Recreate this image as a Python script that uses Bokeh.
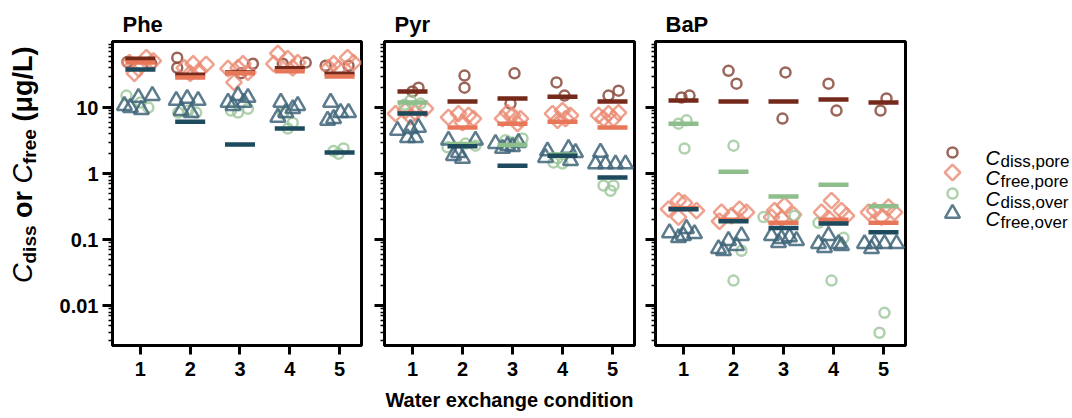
import math
from bokeh.plotting import figure
from bokeh.models import Range1d, FixedTicker, CustomJSTickFormatter, Div
from bokeh.layouts import row
from bokeh.embed import file_html
from bokeh.resources import INLINE
from bokeh.core.properties import value

NAN = float("nan")

CONDITIONS = [1, 2, 3, 4, 5]
PANELS = ["Phe", "Pyr", "BaP"]
Y_TICKS = [0.01, 0.1, 1, 10]
X_LABEL = "Water exchange condition"
SERIES_SUBS = ["diss,pore", "free,pore", "diss,over", "free,over"]

# ---------------- Phe ----------------
PHE_DISS_PORE_X = [0.74, 1.22, 1.74, 1.74, 3.02, 3.26, 3.86, 4.32, 4.72, 5.18]
PHE_DISS_PORE_Y = [49, 46, 57, 40, 33, 46, 46, 48, 43, 43]
PHE_FREE_PORE_X = [0.78, 0.96, 1.12, 1.26, 0.88, 1.88, 2.06, 2.18, 2.32, 2.0,
                   2.76, 2.96, 3.16, 2.88, 3.06, 3.76, 3.96, 4.16, 3.68, 4.06,
                   4.88, 5.16, 4.98, 4.78, 5.28]
PHE_FREE_PORE_Y = [48, 39, 57, 51, 33, 40, 46, 36, 45, 33,
                   39, 40, 34, 24, 46, 66, 55, 48, 46, 40,
                   46, 57, 39, 40, 48]
PHE_DISS_OVER_X = [0.72, 1.16, 1.0, 1.76, 2.12, 1.96, 2.96, 3.16, 2.82,
                   3.96, 4.06, 3.86, 4.88, 5.08, 4.98]
PHE_DISS_OVER_Y = [15.2, 10, 11.9, 8.4, 8.4, 9, 8.4, 9.6, 9,
                   4.8, 5.9, 8.1, 2.2, 2.4, 2.0]
PHE_FREE_OVER_X = [0.68, 0.96, 1.24, 0.8, 1.02, 1.72, 1.94, 2.16, 1.82, 2.02,
                   2.76, 2.96, 3.16, 2.86, 3.08, 3.82, 4.16, 3.92, 3.76, 4.06,
                   4.82, 5.02, 5.18, 4.88, 4.76]
PHE_FREE_OVER_Y = [10.7, 14.2, 15.2, 10, 9.3, 12.8, 13.7, 12.8, 9, 8.4,
                   12, 15.2, 14.2, 10.7, 12, 12, 10.7, 8.4, 7.1, 9.6,
                   12, 8.4, 8.4, 6.8, 6.4]
PHE_MEAN_DISS_PORE = [55, 31.5, 34, 39.4, 32.5]
PHE_MEAN_FREE_PORE = [48, 28.5, 33, 35.5, 29.5]
PHE_MEAN_DISS_OVER = [NAN, NAN, NAN, NAN, NAN]
PHE_MEAN_FREE_OVER = [37.7, 6.1, 2.75, 4.8, 2.08]

# ---------------- Pyr ----------------
PYR_DISS_PORE_X = [1.0, 1.12, 2.04, 2.04, 3.04, 2.96, 3.88, 4.04, 5.12, 4.92]
PYR_DISS_PORE_Y = [17.5, 20, 30.5, 20, 33, 11.5, 24, 15.2, 18, 15.2]
PYR_FREE_PORE_X = [0.66, 0.86, 1.06, 1.26, 0.96, 1.72, 1.92, 2.12, 2.22, 2.0,
                   2.8, 3.0, 3.16, 2.9, 3.1, 3.8, 4.0, 4.16, 3.9, 4.06,
                   4.72, 4.92, 5.12, 4.82, 5.02]
PYR_FREE_PORE_Y = [8.1, 9, 8.4, 9.6, 7.3, 7.1, 8.1, 7.6, 6.8, 5.9,
                   6.8, 7.6, 6.8, 8.4, 5.7, 8.1, 9, 7.6, 6.4, 6.8,
                   7.6, 8.1, 8.4, 6.8, 6.8]
PYR_DISS_OVER_X = [0.96, 1.16, 0.84, 1.7, 2.06, 2.26, 3.2, 3.0, 2.86,
                   3.82, 4.0, 3.9, 4.82, 5.02, 4.96]
PYR_DISS_OVER_Y = [12.8, 11.5, 11, 2.5, 2.85, 2.65, 3.4, 2.95, 3.2,
                   1.47, 1.42, 1.7, 0.66, 0.66, 0.55]
PYR_FREE_OVER_X = [0.7, 0.96, 1.12, 0.9, 1.06, 1.72, 2.26, 1.92, 2.0, 1.82,
                   2.66, 2.9, 3.12, 2.8, 3.0, 3.7, 4.12, 4.26, 3.66, 4.16,
                   4.76, 4.66, 4.86, 5.06, 5.26]
PYR_FREE_OVER_Y = [4.5, 4.8, 5.0, 3.5, 3.5, 3.2, 3.2, 2.08, 1.7, 1.87,
                   2.85, 2.65, 2.95, 2.4, 2.55, 2.2, 2.4, 2.08, 1.75, 1.57,
                   2.1, 1.4, 1.4, 1.4, 1.4]
PYR_MEAN_DISS_PORE = [17.5, 12.3, 13.7, 14.6, 12.3]
PYR_MEAN_FREE_PORE = [8.3, 5.0, 5.7, 6.1, 5.0]
PYR_MEAN_DISS_OVER = [11.9, 2.8, 2.7, 1.95, NAN]
PYR_MEAN_FREE_OVER = [8.1, 2.6, 1.32, 1.87, 0.87]

# ---------------- BaP ----------------
BAP_DISS_PORE_X = [0.96, 1.12, 1.9, 2.06, 3.04, 2.98, 3.9, 4.06, 5.06, 4.94]
BAP_DISS_PORE_Y = [14.2, 15.2, 36, 23, 34, 6.8, 23, 9, 13.7, 9]
BAP_FREE_PORE_X = [0.7, 0.9, 1.02, 1.26, 0.9, 1.76, 1.96, 2.12, 2.26, 1.72,
                   2.82, 3.02, 3.2, 2.96, 2.76, 3.96, 3.76, 4.16, 4.26, 3.9,
                   4.82, 5.1, 4.96, 4.7, 5.22]
BAP_FREE_PORE_Y = [0.29, 0.39, 0.36, 0.275, 0.22, 0.26, 0.23, 0.29, 0.26, 0.19,
                   0.275, 0.33, 0.24, 0.21, 0.22, 0.39, 0.26, 0.275, 0.23, 0.21,
                   0.275, 0.31, 0.22, 0.26, 0.26]
BAP_DISS_OVER_X = [0.9, 1.06, 1.02, 2.0, 2.16, 2.0, 2.6, 3.22,
                   3.7, 4.2, 3.96, 5.02, 4.92]
BAP_DISS_OVER_Y = [5.7, 6.4, 2.4, 2.65, 0.068, 0.024, 0.22, 0.23,
                   0.18, 0.107, 0.024, 0.0078, 0.0039]
BAP_FREE_OVER_X = [0.72, 1.06, 0.9, 1.22, 1.0, 1.7, 1.9, 2.16, 1.8, 2.06,
                   2.76, 2.96, 3.12, 2.9, 3.26, 3.7, 3.9, 4.1, 3.82, 4.16,
                   4.62, 4.82, 5.02, 5.26, 4.76]
BAP_FREE_OVER_Y = [0.127, 0.147, 0.107, 0.123, 0.115, 0.073, 0.097, 0.115, 0.068, 0.081,
                   0.115, 0.104, 0.11, 0.09, 0.097, 0.087, 0.115, 0.087, 0.076, 0.081,
                   0.087, 0.087, 0.087, 0.087, 0.073]
BAP_MEAN_DISS_PORE = [12.8, 12.3, 12.3, 13.2, 11.9]
BAP_MEAN_FREE_PORE = [0.3, 0.2, 0.18, 0.2, 0.18]
BAP_MEAN_DISS_OVER = [5.7, 1.07, 0.45, 0.68, 0.32]
BAP_MEAN_FREE_OVER = [0.29, 0.19, 0.15, 0.175, 0.13]

# ---------------- styling ----------------
FONT = "Liberation Sans"
H = 418
TOP = 41
BOTTOM = 73
PT_COLORS = ["#8A4B3D", "#EA8B73", "#9CC59A", "#3F6579"]
PT_ALPHA = [0.85, 0.8, 0.8, 0.85]
BAR_COLORS = ["#74291A", "#E8775A", "#8DBE8B", "#1D4A5C"]

PANEL_POINTS = {
    "Phe": [(PHE_DISS_PORE_X, PHE_DISS_PORE_Y), (PHE_FREE_PORE_X, PHE_FREE_PORE_Y),
            (PHE_DISS_OVER_X, PHE_DISS_OVER_Y), (PHE_FREE_OVER_X, PHE_FREE_OVER_Y)],
    "Pyr": [(PYR_DISS_PORE_X, PYR_DISS_PORE_Y), (PYR_FREE_PORE_X, PYR_FREE_PORE_Y),
            (PYR_DISS_OVER_X, PYR_DISS_OVER_Y), (PYR_FREE_OVER_X, PYR_FREE_OVER_Y)],
    "BaP": [(BAP_DISS_PORE_X, BAP_DISS_PORE_Y), (BAP_FREE_PORE_X, BAP_FREE_PORE_Y),
            (BAP_DISS_OVER_X, BAP_DISS_OVER_Y), (BAP_FREE_OVER_X, BAP_FREE_OVER_Y)],
}
PANEL_MEANS = {
    "Phe": [PHE_MEAN_DISS_PORE, PHE_MEAN_FREE_PORE, PHE_MEAN_DISS_OVER, PHE_MEAN_FREE_OVER],
    "Pyr": [PYR_MEAN_DISS_PORE, PYR_MEAN_FREE_PORE, PYR_MEAN_DISS_OVER, PYR_MEAN_FREE_OVER],
    "BaP": [BAP_MEAN_DISS_PORE, BAP_MEAN_FREE_PORE, BAP_MEAN_DISS_OVER, BAP_MEAN_FREE_OVER],
}

MINOR = [m * 10.0 ** e for e in range(-3, 2) for m in range(2, 10)]


def draw_marker(p, kind, x, y, color, alpha):
    if kind == 0 or kind == 2:
        p.scatter(x, y, marker="circle", size=10, fill_color=None,
                  line_color=color, line_alpha=alpha, line_width=2.5)
    elif kind == 1:
        p.scatter(x, y, marker="square", angle=math.pi / 4, size=11,
                  fill_color=None, line_color=color, line_alpha=alpha, line_width=2.5)
    else:
        p.scatter(x, y, marker="triangle", size=15, fill_color=None,
                  line_color=color, line_alpha=alpha, line_width=2.5)


def make_panel(name, bl, br, first, xlabel):
    p = figure(width=bl + 250 + br, height=H, title=name,
               x_range=Range1d(0.44, 5.44), y_range=Range1d(0.0025, 100),
               y_axis_type="log", output_backend="svg", toolbar_location=None,
               min_border_left=bl, min_border_right=br, min_border_top=TOP,
               min_border_bottom=BOTTOM)
    p.xgrid.visible = False
    p.ygrid.visible = False
    p.outline_line_color = "black"
    p.outline_line_width = 3
    p.outline_line_alpha = 1.0

    t = p.title
    t.text_font = FONT
    t.text_font_size = "22px"
    t.text_font_style = "bold"
    t.text_color = "black"
    t.align = "left"
    t.offset = 10
    t.standoff = 10

    xa = p.xaxis[0]
    xa.ticker = FixedTicker(ticks=CONDITIONS)
    xa.axis_line_width = 3
    xa.major_tick_out = 9
    xa.major_tick_in = 0
    xa.major_tick_line_width = 3
    xa.minor_tick_out = 0
    xa.minor_tick_in = 0
    xa.major_label_text_font = FONT
    xa.major_label_text_font_size = "20px"
    xa.major_label_text_font_style = "bold"
    xa.major_label_text_color = "black"
    xa.major_label_standoff = 7
    if xlabel:
        xa.axis_label = X_LABEL
        xa.axis_label_text_font = FONT
        xa.axis_label_text_font_size = "20px"
        xa.axis_label_text_font_style = "bold"
        xa.axis_label_text_color = "black"
        xa.axis_label_standoff = 10

    ya = p.yaxis[0]
    ya.ticker = FixedTicker(ticks=Y_TICKS, minor_ticks=MINOR)
    ya.axis_line_width = 3
    ya.major_tick_out = 10
    ya.major_tick_in = 0
    ya.major_tick_line_width = 3
    ya.minor_tick_out = 4
    ya.minor_tick_in = 0
    ya.minor_tick_line_width = 1.5
    if first:
        ya.formatter = CustomJSTickFormatter(code="return String(Number(tick.toPrecision(6)));")
        ya.major_label_text_font = FONT
        ya.major_label_text_font_size = "20px"
        ya.major_label_text_font_style = "bold"
        ya.major_label_text_color = "black"
        ya.major_label_standoff = 4
    else:
        ya.formatter = CustomJSTickFormatter(code="return '';")
        ya.major_label_standoff = 0

    for k, (xs, ys) in enumerate(PANEL_POINTS[name]):
        draw_marker(p, k, xs, ys, PT_COLORS[k], PT_ALPHA[k])
    for k, means in enumerate(PANEL_MEANS[name]):
        p.scatter(CONDITIONS, means, marker="dash", size=30, line_width=4.5,
                  line_color=BAR_COLORS[k])
    return p


# rotated y-axis title with subscripts, as real HTML text
YLAB_HTML = (
    '<div style="position:absolute; left:10px; top:283px; transform:rotate(-90deg); '
    "transform-origin:0 0; white-space:nowrap; font-family:'Liberation Sans', Arial, sans-serif; "
    'font-size:27px; font-weight:bold; line-height:27px; color:#000;">'
    '<span style="font-style:italic; font-weight:normal;">C</span>'
    '<span style="font-size:19px; position:relative; top:4px;">diss</span>'
    ' or '
    '<span style="font-style:italic; font-weight:normal;">C</span>'
    '<span style="font-size:19px; position:relative; top:4px;">free</span>'
    ' (μg/L)</div>'
)
ylab = Div(text=YLAB_HTML, width=56, height=H, margin=(0, 0, 0, 0))

p1 = make_panel("Phe", 55, 11, True, False)
p2 = make_panel("Pyr", 12, 10, False, True)
p3 = make_panel("BaP", 11, 10, False, False)

# legend panel (frame aligned with the panels: page y 41..345)
leg = figure(width=157, height=H, x_range=Range1d(0, 157), y_range=Range1d(73, 377),
             output_backend="svg", toolbar_location=None,
             min_border_left=0, min_border_right=0, min_border_top=TOP,
             min_border_bottom=BOTTOM, x_axis_location=None, y_axis_location=None)
leg.grid.visible = False
leg.outline_line_color = None
ROW_Y = [152, 172, 193, 213]
for k in range(4):
    draw_marker(leg, k, [37], [418 - ROW_Y[k]], PT_COLORS[k], PT_ALPHA[k])
leg.text(x=[70] * 4, y=[418 - (r + 5) for r in ROW_Y], text=["C"] * 4,
         text_font=value(FONT), text_font_size=value("20px"),
         text_font_style=value("italic"), text_color="black",
         text_baseline="alphabetic", text_align="left")
leg.text(x=[85] * 4, y=[418 - (r + 9) for r in ROW_Y], text=SERIES_SUBS,
         text_font=value(FONT), text_font_size=value("17px"),
         text_font_style=value("normal"), text_color="black",
         text_baseline="alphabetic", text_align="left")

layout = row(ylab, p1, p2, p3, leg)
open("out.html", "w").write(file_html(layout, INLINE))
